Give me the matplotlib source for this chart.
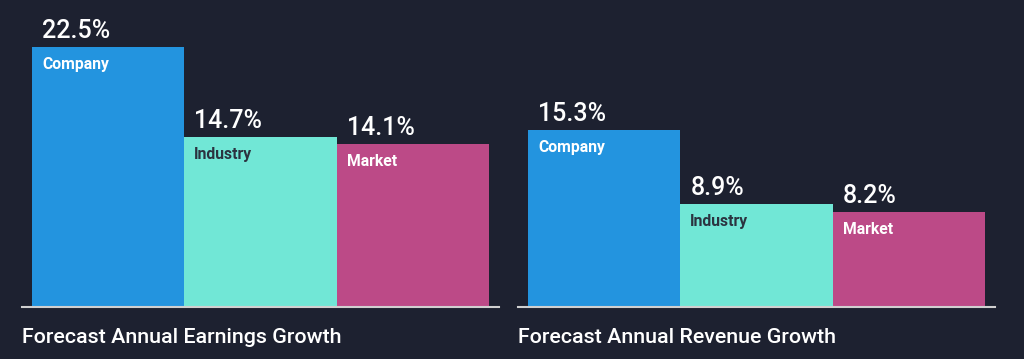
import matplotlib
matplotlib.use("Agg")
import matplotlib.pyplot as plt

categories = ["Company", "Industry", "Market"]
earnings_growth = [22.5, 14.7, 14.1]
revenue_growth = [15.3, 8.9, 8.2]
titles = ["Forecast Annual Earnings Growth", "Forecast Annual Revenue Growth"]

bar_colors = ["#2394DF", "#71E7D6", "#BC4A87"]
inner_text_colors = ["#FFFFFF", "#2B3340", "#FFFFFF"]
bg = "#1D2130"

plt.rcParams['font.family'] = ['Roboto', 'DejaVu Sans']

W, H = 1024, 359
fig = plt.figure(figsize=(W / 100, H / 100), dpi=100)
fig.patch.set_facecolor(bg)

baseline_px = 307
px_per_pct = 11.55
panels = [(22, 499), (518, 995)]
datasets = [earnings_growth, revenue_growth]

for (x0, x1), data, title in zip(panels, datasets, titles):
    ax = fig.add_axes([x0 / W, (H - baseline_px) / H, (x1 - x0) / W, baseline_px / H])
    ax.set_facecolor(bg)
    width_px = x1 - x0
    unit = (width_px - 20) / 3.0
    pad = 10 / unit
    ax.set_xlim(-0.5 - pad, 2.5 + pad)
    ax.set_ylim(0, baseline_px / px_per_pct)
    xs = list(range(len(categories)))
    ax.bar(xs, data, width=1.0, color=bar_colors, linewidth=0)
    for x, v, cat, tc in zip(xs, data, categories, inner_text_colors):
        ax.annotate(f"{v}%", xy=(x - 0.5, v), xycoords='data',
                    xytext=(10, 9), textcoords='offset pixels',
                    ha='left', va='baseline', color='white', fontsize=18,
                    fontweight='medium')
        ax.annotate(cat, xy=(x - 0.5, v), xycoords='data',
                    xytext=(10, -21.5), textcoords='offset pixels',
                    ha='left', va='baseline', color=tc, fontsize=11.3,
                    fontweight='bold')
    for s in ['top', 'left', 'right']:
        ax.spines[s].set_visible(False)
    ax.spines['bottom'].set_color('#D0D0D0')
    ax.spines['bottom'].set_linewidth(1.5)
    ax.set_xticks([])
    ax.set_yticks([])
    fig.text(x0 / W, (H - 343) / H, title, ha='left', va='baseline',
             color='white', fontsize=15.4, fontweight='medium')

fig.savefig("out.png", dpi=100, facecolor=bg)
